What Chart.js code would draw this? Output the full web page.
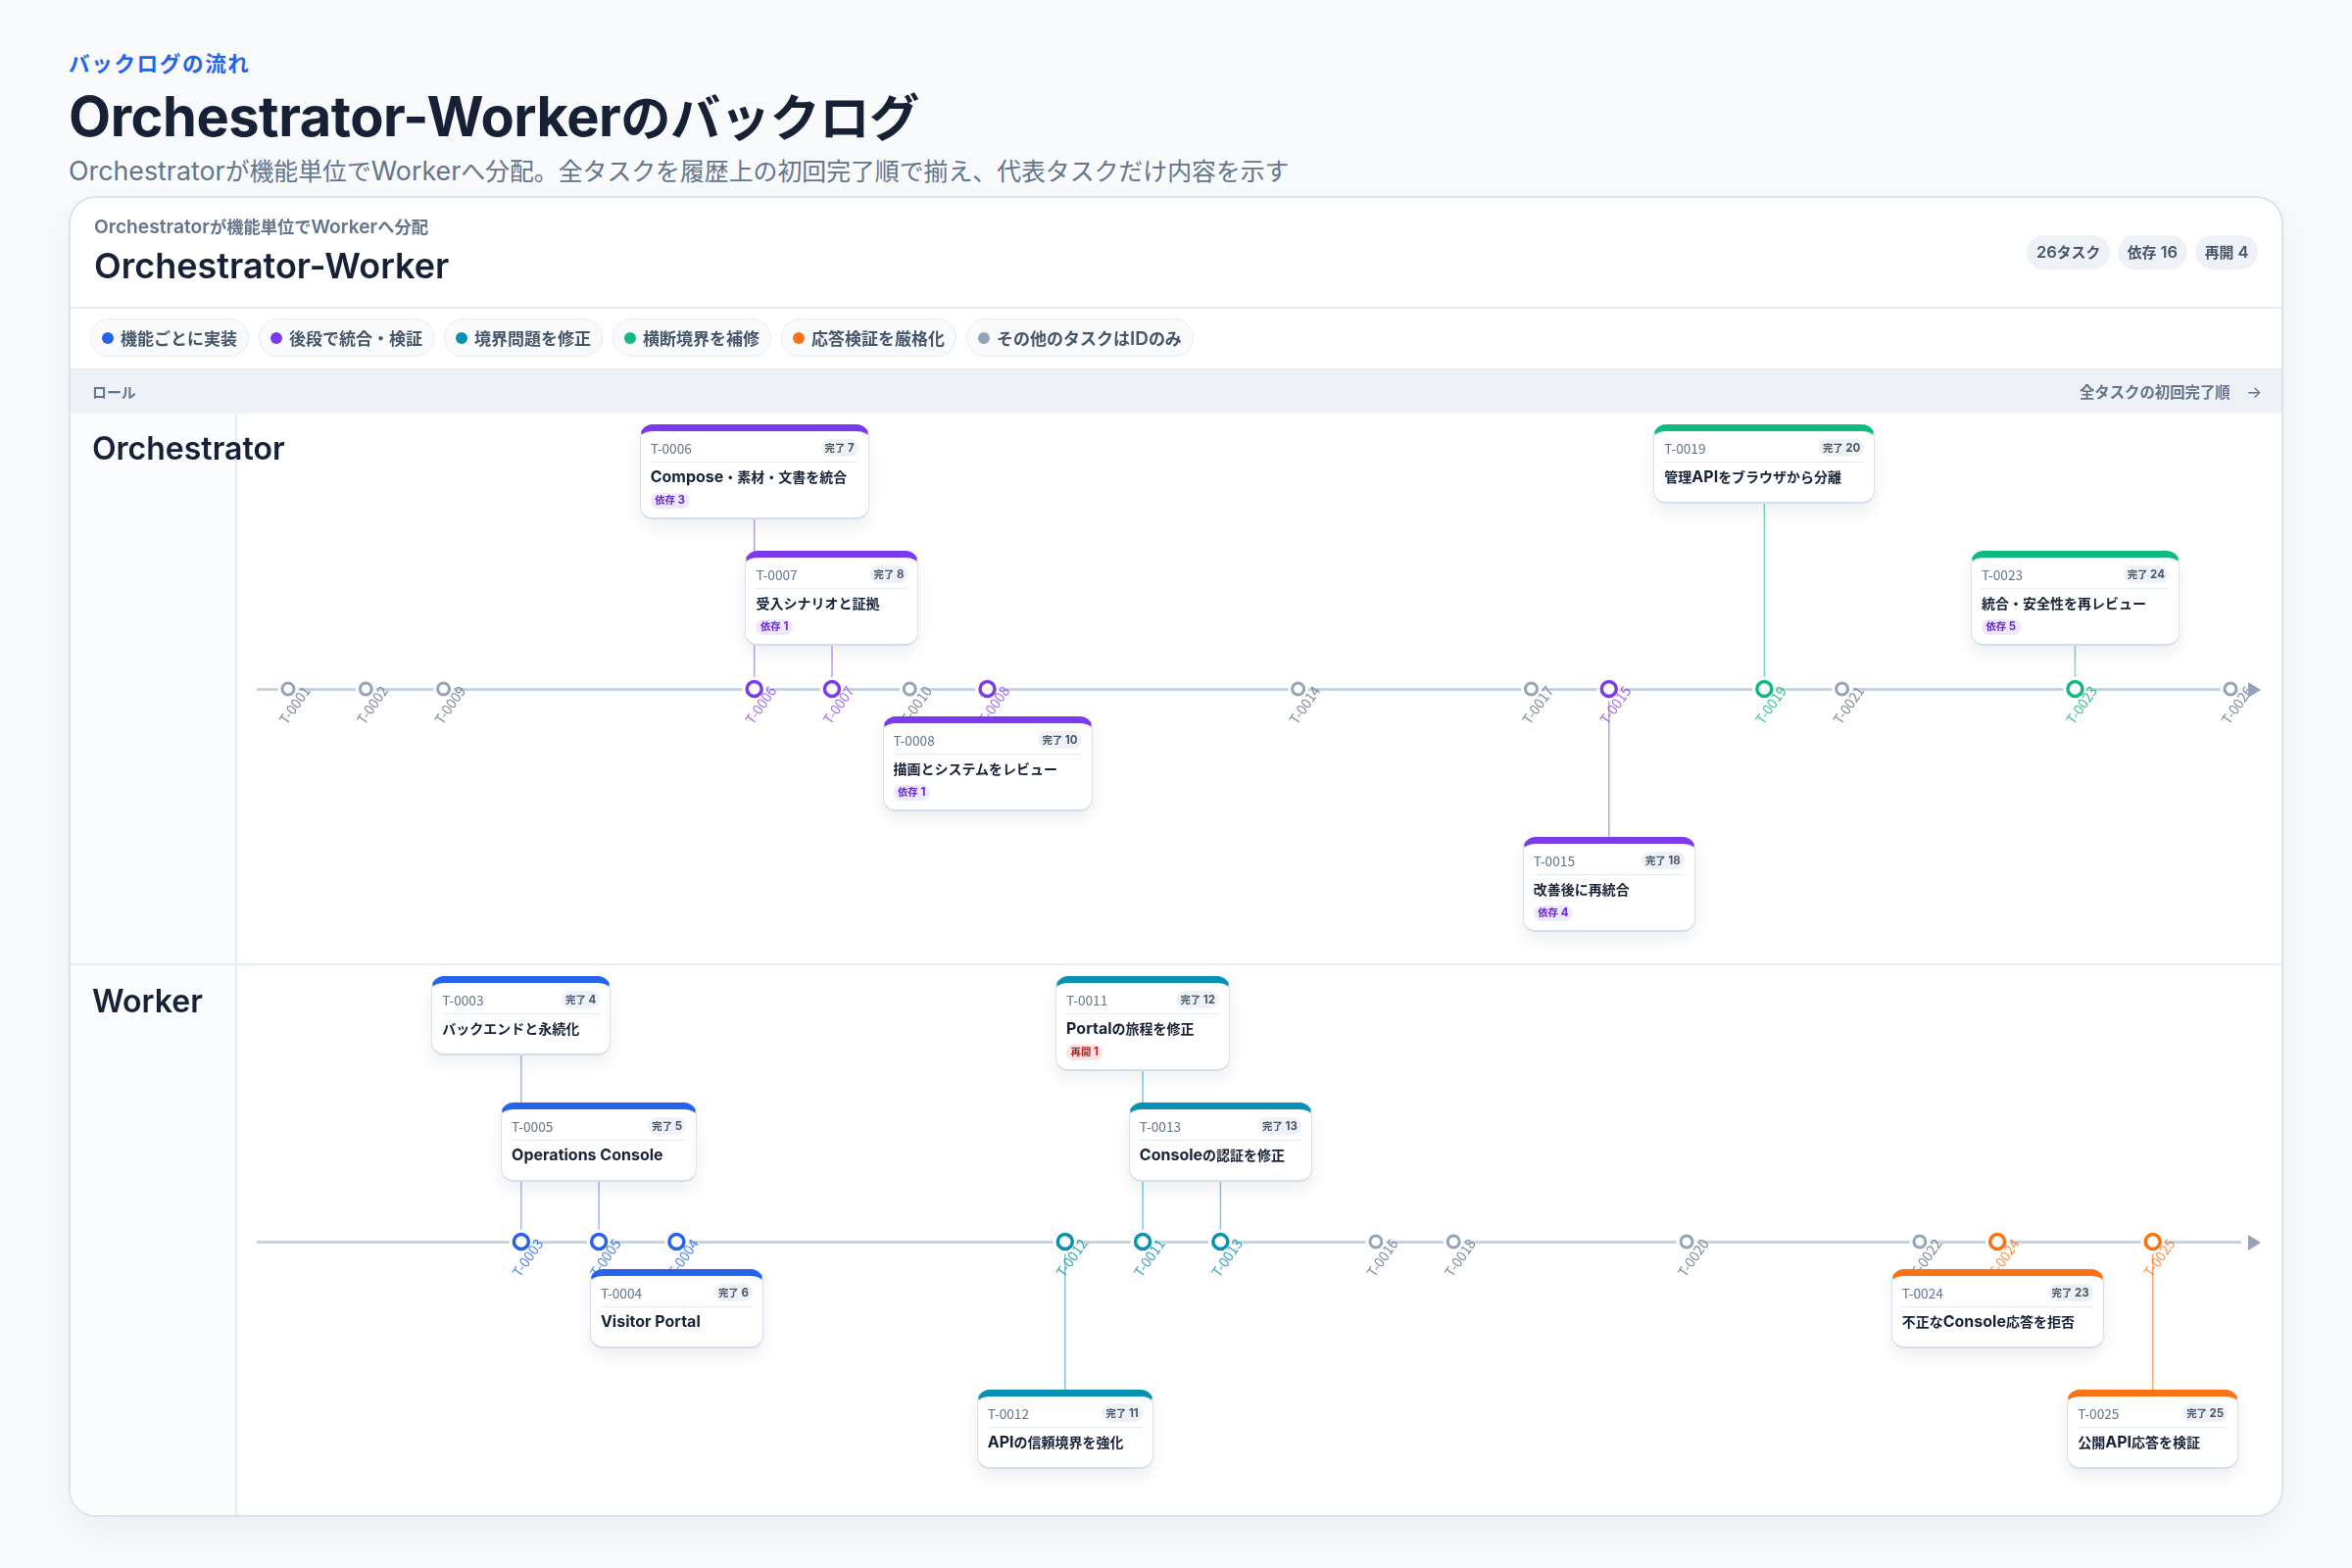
<!DOCTYPE html>
<html lang="ja"><head><meta charset="utf-8">
<script src="https://cdn.jsdelivr.net/npm/chart.js@4"></script>
<style>
*{box-sizing:border-box}
html,body{margin:0;padding:0;width:2400px;height:1600px;overflow:hidden;background:#f8fafc;font-family:Inter,"Noto Sans CJK JP",sans-serif;color:#172135}
.j{font-size:.9em}
.abs{position:absolute;white-space:nowrap}
#eyebrow{left:70px;top:50px;font-size:24px;line-height:30px;font-weight:700;color:#2563eb;letter-spacing:1.6px}
#title{left:70px;top:85px;font-size:56px;line-height:68px;font-weight:700;letter-spacing:-.5px}
#title .j{font-size:.915em}
#sub{left:70px;top:156px;font-size:26.8px;line-height:36px;color:#64748b}
#sub .j{font-size:.928em}
#panel{left:70px;top:200px;width:2260px;height:1348px;background:#fff;border:2px solid #dbe3ee;border-radius:28px;overflow:hidden;box-shadow:0 14px 36px rgba(15,23,42,.05)}
#headline{position:absolute;left:0;right:0;top:111px;height:2px;background:#e5ebf3}
#strip{position:absolute;left:0;right:0;top:174px;height:46px;background:#eef2f7;border-top:2px solid #e5ebf3}
#col{position:absolute;left:0;top:220px;bottom:0;width:170px;background:#fbfcfe;border-right:2px solid #e5ebf3}
#rowline{position:absolute;left:0;right:0;top:781px;height:2px;background:#e5ebf3}
#kicker{left:96px;top:218px;font-size:19.2px;line-height:26px;font-weight:600;color:#64748b}
#ptitle{left:96px;top:246px;font-size:36px;line-height:50px;font-weight:600}
#stats{right:96px;top:240px;display:flex;gap:8.5px}
.stat{height:35px;line-height:35px;padding:0 9.5px;border-radius:18px;background:#eef2f7;color:#475569;font-size:16.5px;font-weight:600}
#legend{left:92px;top:325px;display:flex;gap:10px}
.pill{height:39px;display:flex;align-items:center;padding:0 11px;border-radius:20px;background:#f8fafc;border:1.5px solid #e5ebf3;color:#475569;font-size:18.9px;font-weight:600}
.pill i{width:12px;height:12px;border-radius:50%;margin-right:7px;flex:none}
#lrole{left:94px;top:388px;font-size:16.6px;line-height:24px;font-weight:600;color:#64748b}
#lorder{left:2122px;top:388px;font-size:17.1px;line-height:24px;font-weight:600;color:#64748b}
#larrow{left:2292px;top:388px;font-size:17px;line-height:24px;color:#64748b}
.role{left:94px;font-size:32px;line-height:44px;font-weight:600}
canvas#c{position:absolute;left:0;top:0;width:2400px;height:1600px}
.card{position:absolute;background:#fff;border:1.5px solid #d9e1ec;border-top:7px solid;border-bottom:2px solid #d5deea;border-radius:13px;padding:8.5px 10px 0;box-shadow:0 8px 16px rgba(15,23,42,.07)}
.hd{display:flex;justify-content:space-between;align-items:center;height:24px;padding-bottom:6px;border-bottom:1px solid #e5ebf3}
.tid{font-family:"Noto Sans CJK JP",sans-serif;font-size:13.7px;color:#64748b;line-height:18px}
.done{height:18px;line-height:18px;padding:0 4px;border-radius:9px;background:#eef2f7;color:#475569;font-size:11.5px;font-weight:700}
.tt{font-size:16px;line-height:20px;font-weight:700;margin-top:4px;white-space:nowrap}
.tt .j{font-size:14px}
.bd{display:inline-block;margin-top:6px;height:15.5px;line-height:15.5px;padding:0 4.5px;border-radius:8px;font-size:11.5px;font-weight:700}
.dep{background:#ede9fe;color:#6d28d9}.re{background:#fee2e2;color:#b91c1c}
</style></head><body>
<div class="abs" id="eyebrow">バックログの流れ</div>
<div class="abs" id="title">Orchestrator-Workerのバックログ</div>
<div class="abs" id="sub">Orchestratorが機能単位でWorkerへ分配。全タスクを履歴上の初回完了順で揃え、代表タスクだけ内容を示す</div>
<div class="abs" id="panel"><div id="headline"></div><div id="strip"></div><div id="col"></div><div id="rowline"></div></div>
<canvas id="c" width="2400" height="1600"></canvas>
<div class="abs" id="kicker">Orchestratorが機能単位でWorkerへ分配</div>
<div class="abs" id="ptitle">Orchestrator-Worker</div>
<div class="abs" id="stats"></div>
<div class="abs" id="legend"></div>
<div class="abs" id="lrole">ロール</div>
<div class="abs" id="lorder">全タスクの初回完了順</div>
<div class="abs" id="larrow">→</div>
<div id="roles"></div>
<div id="cards"></div>
<script>
// ---- data ----
const stats = ['26タスク','依存 16','再開 4'];
const roles = ['Orchestrator','Worker'];
const groupNames = ['機能ごとに実装','後段で統合・検証','境界問題を修正','横断境界を補修','応答検証を厳格化','その他のタスクはIDのみ'];
const taskIds   = ['T-0001','T-0002','T-0009','T-0003','T-0005','T-0004','T-0006','T-0007','T-0010','T-0008','T-0012','T-0011','T-0013','T-0014','T-0016','T-0018','T-0017','T-0015','T-0020','T-0019','T-0021','T-0022','T-0024','T-0023','T-0025','T-0026'];
const taskOrder = [1,2,3,4,5,6,7,8,9,10,11,12,13,14,15,16,17,18,19,20,21,22,23,24,25,26];
const taskRole  = [0,0,0,1,1,1,0,0,0,0,1,1,1,0,1,1,0,0,1,0,0,1,1,0,1,0];
const taskGroup = [5,5,5,0,0,0,1,1,5,1,2,2,2,5,5,5,5,1,5,3,5,5,4,3,4,5];
const cardIds    = ['T-0006','T-0007','T-0008','T-0015','T-0019','T-0023','T-0003','T-0005','T-0004','T-0011','T-0013','T-0012','T-0024','T-0025'];
const cardTitles = ['Compose・素材・文書を統合','受入シナリオと証拠','描画とシステムをレビュー','改善後に再統合','管理APIをブラウザから分離','統合・安全性を再レビュー','バックエンドと永続化','Operations Console','Visitor Portal','Portalの旅程を修正','Consoleの認証を修正','APIの信頼境界を強化','不正なConsole応答を拒否','公開API応答を検証'];
const cardDeps    = [3,1,1,4,0,5,0,0,0,0,0,0,0,0];
const cardReopens = [0,0,0,0,0,0,0,0,0,1,0,0,0,0];

// ---- layout and style (not data) ----
const groupColors = ['#2563eb','#7c3aed','#0891b2','#10b981','#f97316','#94a3b8'];
const groupAlpha  = ['rgba(37,99,235,.45)','rgba(124,58,237,.5)','rgba(8,145,178,.5)','rgba(16,185,129,.55)','rgba(249,115,22,.6)','rgba(148,163,184,.5)'];
const groupLabel  = ['rgba(37,99,235,.8)','rgba(124,58,237,.75)','rgba(8,145,178,.85)','rgba(16,185,129,.85)','rgba(249,115,22,.8)','#7b889b'];
const cardLane  = [2,1,-1,-2,2,1,2,1,-1,2,1,-2,-1,-2];
const cardWidth = [234,177,214,176,226,213,183,200,177,178,187,180,217,175];
const laneTop   = {'2':-270.5,'1':-141.5,'-1':27.5,'-2':150.5};
const laneReach = {'2':-.44,'1':-.2,'-2':.29};
const roleTopOffset = -267;

const idx = id => taskIds.indexOf(id);

document.getElementById('stats').innerHTML = stats.map(s=>`<span class="stat">${s}</span>`).join('');
document.getElementById('legend').innerHTML = groupNames.map((g,i)=>`<span class="pill"><i style="background:${groupColors[i]}"></i>${g}</span>`).join('');

// point datasets: one per legend group
const pointSets = groupNames.map((g,i)=>({
  type:'scatter', label:g, xAxisID:'xRow0', yAxisID:'y',
  data: taskIds.map((_,k)=>k).filter(k=>taskGroup[k]===i).map(k=>({x:taskOrder[k],y:taskRole[k]+1})),
  pointRadius: i===5?6:7.5, pointBorderWidth: i===5?3:3.5,
  pointBorderColor: groupColors[i], pointBackgroundColor:'#fff', pointHoverRadius:0, order:1, halo:true
}));
// connectors from a point to its card (lower-lane cards sit directly on their label, no stem)
const stemSets = cardIds.map((id,i)=>({lane:cardLane[i],id})).filter(c=>c.lane!==-1).map(c=>{
  const k=idx(c.id), r=taskRole[k]+1;
  return {type:'line', label:'stem '+c.id, xAxisID:'xRow0', yAxisID:'y',
    data:[{x:taskOrder[k],y:r},{x:taskOrder[k],y:r+laneReach[c.lane]}],
    borderColor:groupAlpha[taskGroup[k]], borderWidth:1.5, pointRadius:0, order:2};
});

const rowAxis = r => ({
  type:'linear', axis:'x', position:{y:r+1}, min:.609, max:26.126, offset:false,
  afterBuildTicks: a => { a.ticks = taskIds.map((_,k)=>k).filter(k=>taskRole[k]===r).map(k=>({value:taskOrder[k]})); },
  grid:{display:false,drawTicks:false},
  border:{display:true,color:'#c8d3e0',width:3,z:-1},
  ticks:{ z:1, autoSkip:false, includeBounds:false, minRotation:55, maxRotation:55, labelOffset:19, padding:-6,
    font:{family:'"Noto Sans CJK JP",sans-serif',size:14},
    color: c => { const k=taskOrder.indexOf(c.tick.value); return groupLabel[taskGroup[k]]; },
    callback: v => taskIds[taskOrder.indexOf(v)] }
});

const haloAndArrow = {
  id:'haloAndArrow',
  beforeDatasetDraw(ch,args){
    const ds=ch.data.datasets[args.index]; if(!ds.halo) return;
    const c=ch.ctx; c.save(); c.fillStyle='#fff';
    args.meta.data.forEach(p=>{ c.beginPath(); c.arc(p.x,p.y,ds.pointRadius+ds.pointBorderWidth/2+3,0,Math.PI*2); c.fill(); });
    c.restore();
  },
  afterDraw(ch){
    const c=ch.ctx; c.save(); c.fillStyle='#94a3b8';
    roles.forEach((_,r)=>{ const y=ch.scales.y.getPixelForValue(r+1)+1, x=ch.chartArea.right+8;
      c.beginPath(); c.moveTo(x,y-8); c.lineTo(x+13,y); c.lineTo(x,y+8); c.closePath(); c.fill(); });
    c.restore();
  }
};

const chart = new Chart(document.getElementById('c'),{
  data:{datasets:[...pointSets,...stemSets]},
  plugins:[haloAndArrow],
  options:{
    responsive:false, animation:false, events:[], devicePixelRatio:1,
    layout:{padding:{left:263,right:114,top:421,bottom:51}},
    plugins:{legend:{display:false},tooltip:{enabled:false},title:{display:false}},
    scales:{
      y:{type:'linear',display:false,reverse:true,min:.5,max:2.5},
      xRow0:rowAxis(0), xRow1:rowAxis(1)
    }
  }
});

// DOM cards and role labels, placed through the chart's own scales
const X=chart.scales.xRow0, Y=chart.scales.y;
document.getElementById('roles').innerHTML = roles.map((r,i)=>`<div class="abs role" style="top:${Y.getPixelForValue(i+1)+roleTopOffset}px">${r}</div>`).join('');
document.getElementById('cards').innerHTML = cardIds.map((id,i)=>{
  const k=idx(id), cx=X.getPixelForValue(taskOrder[k]), cy=Y.getPixelForValue(taskRole[k]+1);
  const nudge = (taskRole[k]===1 && cardLane[i]>0) ? -1 : 0;
  const badge = cardDeps[i]?`<span class="bd dep">依存 ${cardDeps[i]}</span>`:cardReopens[i]?`<span class="bd re">再開 ${cardReopens[i]}</span>`:'';
  return `<div class="card" style="left:${cx-cardWidth[i]/2}px;top:${cy+laneTop[cardLane[i]]+nudge}px;width:${cardWidth[i]}px;height:${badge?97:81}px;border-top-color:${groupColors[taskGroup[k]]}">
  <div class="hd"><span class="tid">${id}</span><span class="done">完了 ${taskOrder[k]}</span></div><div class="tt">${cardTitles[i]}</div>${badge}</div>`;
}).join('');

// Japanese runs are set a little smaller than the Latin text, as in the reference
const walker=document.createTreeWalker(document.body,NodeFilter.SHOW_TEXT);
const nodes=[]; while(walker.nextNode()){ if(walker.currentNode.parentNode.tagName!=='SCRIPT' && /[\u3000-\u9fff\uff00-\uffef]/.test(walker.currentNode.nodeValue)) nodes.push(walker.currentNode); }
nodes.forEach(n=>{ const s=document.createElement('span');
  s.innerHTML=n.nodeValue.replace(/[\u3000-\u9fff\uff00-\uffef]+/g,m=>`<span class="j">${m}</span>`);
  n.parentNode.replaceChild(s,n); });
</script></body></html>
